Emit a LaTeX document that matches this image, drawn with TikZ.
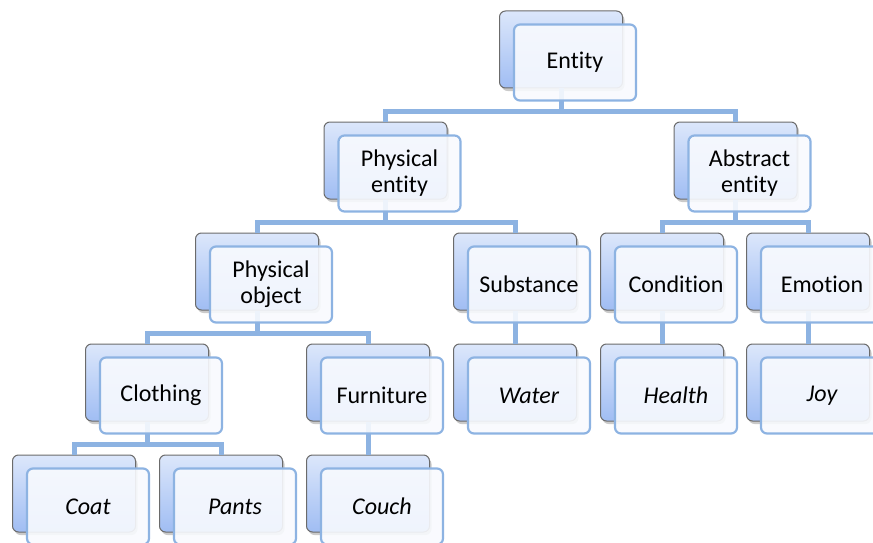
\documentclass[tikz,border=0pt]{standalone}
\usepackage{fontspec}
\setmainfont[Ligatures={NoCommon,NoRare,NoDiscretionary}]{Carlito}
\usetikzlibrary{shadows}
\definecolor{linkblue}{HTML}{8DB3E2}
\definecolor{cardtop}{HTML}{DCE7FB}
\definecolor{cardbot}{HTML}{A0BDF3}
\definecolor{cardrim}{HTML}{6B6B6B}
\definecolor{facefill}{HTML}{F8FAFE}
\tikzset{
  backcard/.style={draw=cardrim, line width=1pt, rounded corners=6pt,
    top color=cardtop, bottom color=cardbot,
    minimum width=123pt, minimum height=77pt, inner sep=0pt,
    drop shadow={shadow xshift=2pt, shadow yshift=-3pt, opacity=0.35, fill=black!60}},
  facecard/.style={draw=linkblue, line width=2.2pt, rounded corners=6pt,
    fill=facefill, fill opacity=0.9, text opacity=1,
    minimum width=122pt, minimum height=76pt, inner sep=2pt,
    align=center, font=\fontsize{24}{26}\selectfont},
  leaf/.style={font=\fontsize{24}{26}\selectfont\itshape},
  link/.style={draw=linkblue, line width=5pt}
}
% one entry: name, centre x, centre y (down from the top)
\newcommand{\cardback}[3]{\node[backcard] (#1-b) at (#2,-#3) {};}
\newcommand{\cardface}[5][]{\node[facecard,#1] (#2) at (#3+14,-#4-13) {#5};}
% link from a parent card down to a child card
\newcommand{\linkto}[2]{\draw[link] (#2-b.north) -- ++(0,10.5) -| (#1-b.south);}
\begin{document}
\begin{tikzpicture}[x=1pt,y=1pt]
\useasboundingbox (0,0) rectangle (873,-543);
\clip (0,0) rectangle (873,-543);
% back cards
\cardback{ent}{561}{49.5}
\cardback{phy}{385.5}{160.5}
\cardback{abs}{735.5}{160.5}
\cardback{pob}{257}{271.5}
\cardback{sub}{515}{271.5}
\cardback{con}{662}{271.5}
\cardback{emo}{808}{271.5}
\cardback{clo}{147}{382.5}
\cardback{fur}{368}{382.5}
\cardback{wat}{515}{382.5}
\cardback{hea}{662}{382.5}
\cardback{joy}{808}{382.5}
\cardback{coa}{74}{493.5}
\cardback{pan}{221}{493.5}
\cardback{cou}{368}{493.5}
% links
\linkto{ent}{phy}
\linkto{ent}{abs}
\linkto{phy}{pob}
\linkto{phy}{sub}
\linkto{abs}{con}
\linkto{abs}{emo}
\linkto{pob}{clo}
\linkto{pob}{fur}
\linkto{sub}{wat}
\linkto{con}{hea}
\linkto{emo}{joy}
\linkto{clo}{coa}
\linkto{clo}{pan}
\linkto{fur}{cou}
% face cards with labels
\cardface{ent}{561}{49.5}{Entity}
\cardface{phy}{385.5}{160.5}{Physical\\entity}
\cardface{abs}{735.5}{160.5}{Abstract\\entity}
\cardface{pob}{257}{271.5}{Physical\\object}
\cardface{sub}{515}{271.5}{Substance}
\cardface{con}{662}{271.5}{Condition}
\cardface{emo}{808}{271.5}{Emotion}
\cardface{clo}{147}{382.5}{Clothing}
\cardface{fur}{368}{382.5}{Furniture}
\cardface[leaf]{wat}{515}{382.5}{Water}
\cardface[leaf]{hea}{662}{382.5}{Health}
\cardface[leaf]{joy}{808}{382.5}{Joy}
\cardface[leaf]{coa}{74}{493.5}{Coat}
\cardface[leaf]{pan}{221}{493.5}{Pants}
\cardface[leaf]{cou}{368}{493.5}{Couch}
\end{tikzpicture}
\end{document}
